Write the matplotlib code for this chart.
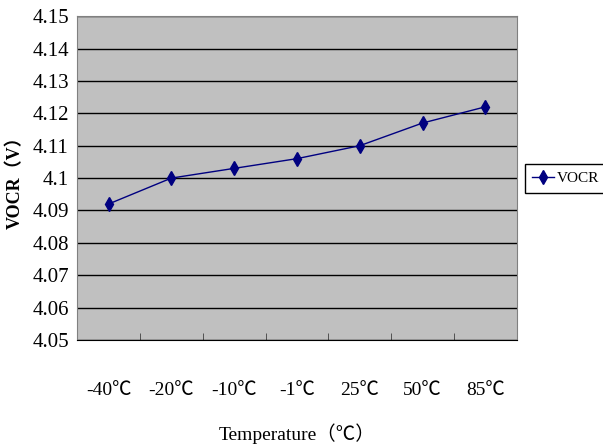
import matplotlib.pyplot as plt

temps = ['-40℃', '-20℃', '-10℃', '-1℃', '25℃', '50℃', '85℃']
vocr = [4.092, 4.100, 4.103, 4.106, 4.110, 4.117, 4.122]
yticks = [4.05, 4.06, 4.07, 4.08, 4.09, 4.1, 4.11, 4.12, 4.13, 4.14, 4.15]
ytick_labels = ['4.05', '4.06', '4.07', '4.08', '4.09', '4.1', '4.11', '4.12', '4.13', '4.14', '4.15']

plt.rcParams['font.family'] = ['Liberation Serif', 'Noto Sans CJK SC', 'DejaVu Sans']

fig = plt.figure(figsize=(6.03, 4.48), dpi=100)
ax = fig.add_axes([0.128, 0.241, 0.729, 0.723])
ax.set_facecolor('#c0c0c0')

x = list(range(len(temps)))
ax.plot(x, vocr, color='#000080', lw=1, marker='d', markersize=7, label='VOCR')

ax.set_xlim(-0.5, len(temps) - 0.5)
ax.set_ylim(4.05, 4.15)
ax.set_yticks(yticks)
ax.set_yticklabels(ytick_labels, fontsize=15)
ax.yaxis.grid(True, color='black', lw=1)
ax.set_axisbelow(True)

ax.set_xticks(x)
ax.set_xticklabels(temps, fontsize=14)
ax.set_xticks([i + 0.5 for i in range(-1, len(temps))], minor=True)
ax.tick_params(axis='x', which='major', length=0, pad=30)
ax.tick_params(axis='x', which='minor', length=5, direction='in', color='#404040')
ax.tick_params(axis='y', length=0, pad=6)

for s in ['left', 'top', 'right']:
    ax.spines[s].set_color('#808080')
ax.spines['bottom'].set_color('black')

ax.set_xlabel('Temperature（℃）', fontsize=14, labelpad=18)
ax.set_ylabel('VOCR（V）', fontsize=13, fontweight='bold', labelpad=6)

leg = ax.legend(loc='center left', bbox_to_anchor=(1.018, 0.5), fontsize=11,
                fancybox=False, edgecolor='black', framealpha=1, handlelength=1.4,
                borderpad=0.5, handletextpad=0.2, borderaxespad=0)
leg.get_frame().set_linewidth(1)

fig.savefig('out.png', dpi=100)
